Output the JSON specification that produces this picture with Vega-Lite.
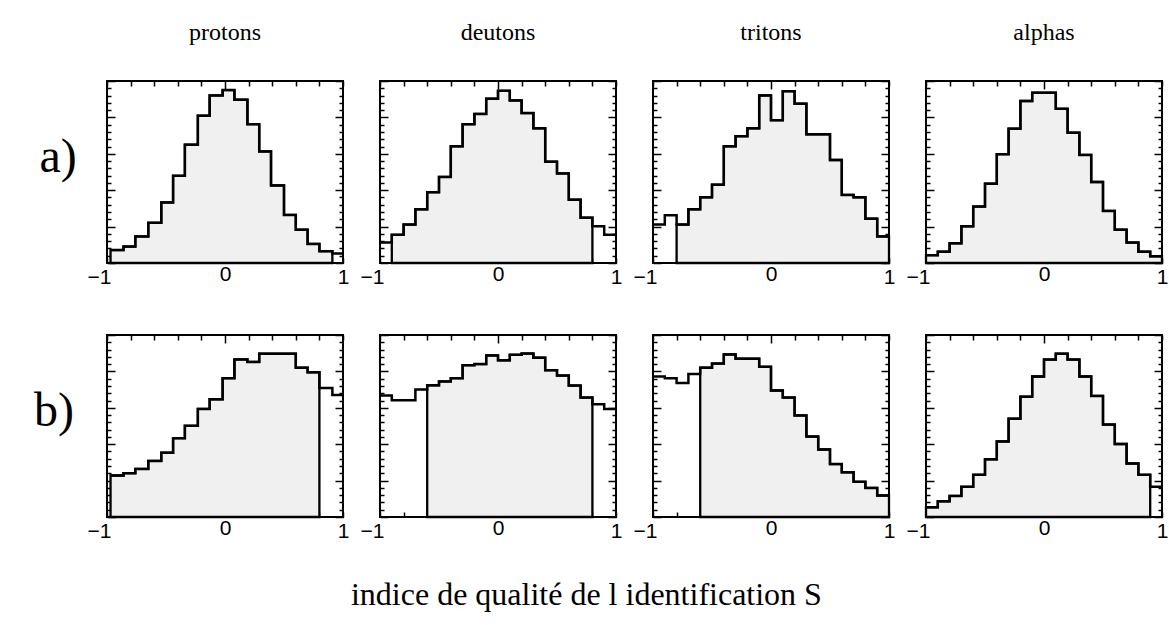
{
  "$schema": "https://vega.github.io/schema/vega-lite/v6.json",
  "background": "white",
  "padding": {"left": 34, "top": 21, "right": 5, "bottom": 5},
  "title": {"text": "indice de qualité de l identification S", "orient": "bottom", "font": "Liberation Serif", "fontSize": 32, "fontWeight": "normal", "color": "black", "offset": 38, "anchor": "middle", "dx": -15},
  "datasets": {
    "hist": [
      {"p":"protons","r":"a)","x":-0.97,"n":7.1},{"p":"protons","r":"a)","x":-0.86,"n":9.0},{"p":"protons","r":"a)","x":-0.76,"n":14.6},{"p":"protons","r":"a)","x":-0.65,"n":22.1},{"p":"protons","r":"a)","x":-0.54,"n":33.3},{"p":"protons","r":"a)","x":-0.44,"n":47.9},{"p":"protons","r":"a)","x":-0.34,"n":65.0},{"p":"protons","r":"a)","x":-0.23,"n":80.9},{"p":"protons","r":"a)","x":-0.13,"n":92.1},{"p":"protons","r":"a)","x":-0.02,"n":95.0},{"p":"protons","r":"a)","x":0.08,"n":89.7},{"p":"protons","r":"a)","x":0.19,"n":76.3},{"p":"protons","r":"a)","x":0.29,"n":61.3},{"p":"protons","r":"a)","x":0.39,"n":42.6},{"p":"protons","r":"a)","x":0.5,"n":26.4},{"p":"protons","r":"a)","x":0.6,"n":18.3},{"p":"protons","r":"a)","x":0.7,"n":10.5},{"p":"protons","r":"a)","x":0.8,"n":6.5},{"p":"protons","r":"a)","x":0.91,"n":5.2},{"p":"protons","r":"a)","x":1,"n":5.2},
      {"p":"deutons","r":"a)","x":-1,"n":11.2},{"p":"deutons","r":"a)","x":-0.9,"n":15.5},{"p":"deutons","r":"a)","x":-0.8,"n":21.1},{"p":"deutons","r":"a)","x":-0.7,"n":29.5},{"p":"deutons","r":"a)","x":-0.6,"n":38.9},{"p":"deutons","r":"a)","x":-0.5,"n":47.3},{"p":"deutons","r":"a)","x":-0.4,"n":64.1},{"p":"deutons","r":"a)","x":-0.3,"n":76.3},{"p":"deutons","r":"a)","x":-0.2,"n":81.9},{"p":"deutons","r":"a)","x":-0.1,"n":90.3},{"p":"deutons","r":"a)","x":0,"n":94.6},{"p":"deutons","r":"a)","x":0.1,"n":89.3},{"p":"deutons","r":"a)","x":0.2,"n":82.4},{"p":"deutons","r":"a)","x":0.3,"n":74.0},{"p":"deutons","r":"a)","x":0.4,"n":55.7},{"p":"deutons","r":"a)","x":0.5,"n":49.2},{"p":"deutons","r":"a)","x":0.6,"n":34.8},{"p":"deutons","r":"a)","x":0.7,"n":24.9},{"p":"deutons","r":"a)","x":0.8,"n":20.2},{"p":"deutons","r":"a)","x":0.9,"n":15.5},{"p":"deutons","r":"a)","x":1,"n":15.5},
      {"p":"tritons","r":"a)","x":-1,"n":21.1},{"p":"tritons","r":"a)","x":-0.9,"n":26.2},{"p":"tritons","r":"a)","x":-0.8,"n":21.1},{"p":"tritons","r":"a)","x":-0.7,"n":29.5},{"p":"tritons","r":"a)","x":-0.6,"n":36.1},{"p":"tritons","r":"a)","x":-0.5,"n":43.0},{"p":"tritons","r":"a)","x":-0.4,"n":64.1},{"p":"tritons","r":"a)","x":-0.3,"n":69.7},{"p":"tritons","r":"a)","x":-0.2,"n":74.0},{"p":"tritons","r":"a)","x":-0.1,"n":92.1},{"p":"tritons","r":"a)","x":0,"n":78.5},{"p":"tritons","r":"a)","x":0.1,"n":94.4},{"p":"tritons","r":"a)","x":0.2,"n":87.5},{"p":"tritons","r":"a)","x":0.3,"n":70.7},{"p":"tritons","r":"a)","x":0.4,"n":70.7},{"p":"tritons","r":"a)","x":0.5,"n":56.6},{"p":"tritons","r":"a)","x":0.6,"n":37.4},{"p":"tritons","r":"a)","x":0.7,"n":36.1},{"p":"tritons","r":"a)","x":0.8,"n":24.3},{"p":"tritons","r":"a)","x":0.9,"n":14.6},{"p":"tritons","r":"a)","x":1,"n":14.6},
      {"p":"alphas","r":"a)","x":-1,"n":4.3},{"p":"alphas","r":"a)","x":-0.9,"n":6.2},{"p":"alphas","r":"a)","x":-0.8,"n":10.8},{"p":"alphas","r":"a)","x":-0.7,"n":20.2},{"p":"alphas","r":"a)","x":-0.6,"n":31.0},{"p":"alphas","r":"a)","x":-0.5,"n":43.6},{"p":"alphas","r":"a)","x":-0.4,"n":59.8},{"p":"alphas","r":"a)","x":-0.3,"n":73.8},{"p":"alphas","r":"a)","x":-0.2,"n":89.0},{"p":"alphas","r":"a)","x":-0.1,"n":93.6},{"p":"alphas","r":"a)","x":0,"n":93.6},{"p":"alphas","r":"a)","x":0.1,"n":84.7},{"p":"alphas","r":"a)","x":0.2,"n":71.6},{"p":"alphas","r":"a)","x":0.3,"n":59.4},{"p":"alphas","r":"a)","x":0.4,"n":44.5},{"p":"alphas","r":"a)","x":0.5,"n":28.6},{"p":"alphas","r":"a)","x":0.6,"n":18.3},{"p":"alphas","r":"a)","x":0.7,"n":11.2},{"p":"alphas","r":"a)","x":0.8,"n":6.2},{"p":"alphas","r":"a)","x":0.9,"n":3.7},{"p":"alphas","r":"a)","x":1,"n":3.7},
      {"p":"protons","r":"b)","x":-0.97,"n":22.8},{"p":"protons","r":"b)","x":-0.86,"n":24.1},{"p":"protons","r":"b)","x":-0.76,"n":26.4},{"p":"protons","r":"b)","x":-0.65,"n":30.8},{"p":"protons","r":"b)","x":-0.54,"n":35.3},{"p":"protons","r":"b)","x":-0.44,"n":43.3},{"p":"protons","r":"b)","x":-0.34,"n":50.1},{"p":"protons","r":"b)","x":-0.23,"n":59.4},{"p":"protons","r":"b)","x":-0.13,"n":64.7},{"p":"protons","r":"b)","x":-0.02,"n":76.3},{"p":"protons","r":"b)","x":0.08,"n":86.6},{"p":"protons","r":"b)","x":0.19,"n":85.2},{"p":"protons","r":"b)","x":0.29,"n":89.7},{"p":"protons","r":"b)","x":0.39,"n":89.7},{"p":"protons","r":"b)","x":0.5,"n":89.7},{"p":"protons","r":"b)","x":0.6,"n":82.0},{"p":"protons","r":"b)","x":0.7,"n":79.5},{"p":"protons","r":"b)","x":0.8,"n":70.9},{"p":"protons","r":"b)","x":0.91,"n":67.0},{"p":"protons","r":"b)","x":1,"n":67.0},
      {"p":"deutons","r":"b)","x":-1,"n":66.8},{"p":"deutons","r":"b)","x":-0.9,"n":64.2},{"p":"deutons","r":"b)","x":-0.8,"n":64.2},{"p":"deutons","r":"b)","x":-0.7,"n":70.1},{"p":"deutons","r":"b)","x":-0.6,"n":72.4},{"p":"deutons","r":"b)","x":-0.5,"n":74.5},{"p":"deutons","r":"b)","x":-0.4,"n":76.3},{"p":"deutons","r":"b)","x":-0.3,"n":83.4},{"p":"deutons","r":"b)","x":-0.2,"n":84.0},{"p":"deutons","r":"b)","x":-0.1,"n":88.8},{"p":"deutons","r":"b)","x":0,"n":86.1},{"p":"deutons","r":"b)","x":0.1,"n":89.1},{"p":"deutons","r":"b)","x":0.2,"n":89.8},{"p":"deutons","r":"b)","x":0.3,"n":87.5},{"p":"deutons","r":"b)","x":0.4,"n":80.7},{"p":"deutons","r":"b)","x":0.5,"n":77.7},{"p":"deutons","r":"b)","x":0.6,"n":72.2},{"p":"deutons","r":"b)","x":0.7,"n":65.6},{"p":"deutons","r":"b)","x":0.8,"n":62.0},{"p":"deutons","r":"b)","x":0.9,"n":59.4},{"p":"deutons","r":"b)","x":1,"n":59.4},
      {"p":"tritons","r":"b)","x":-1,"n":77.2},{"p":"tritons","r":"b)","x":-0.9,"n":76.3},{"p":"tritons","r":"b)","x":-0.8,"n":73.6},{"p":"tritons","r":"b)","x":-0.7,"n":78.6},{"p":"tritons","r":"b)","x":-0.6,"n":82.0},{"p":"tritons","r":"b)","x":-0.5,"n":84.3},{"p":"tritons","r":"b)","x":-0.4,"n":89.3},{"p":"tritons","r":"b)","x":-0.3,"n":87.0},{"p":"tritons","r":"b)","x":-0.2,"n":87.0},{"p":"tritons","r":"b)","x":-0.1,"n":82.5},{"p":"tritons","r":"b)","x":0,"n":69.5},{"p":"tritons","r":"b)","x":0.1,"n":65.6},{"p":"tritons","r":"b)","x":0.2,"n":55.8},{"p":"tritons","r":"b)","x":0.3,"n":44.2},{"p":"tritons","r":"b)","x":0.4,"n":37.1},{"p":"tritons","r":"b)","x":0.5,"n":29.1},{"p":"tritons","r":"b)","x":0.6,"n":24.6},{"p":"tritons","r":"b)","x":0.7,"n":19.3},{"p":"tritons","r":"b)","x":0.8,"n":16.0},{"p":"tritons","r":"b)","x":0.9,"n":11.8},{"p":"tritons","r":"b)","x":1,"n":11.8},
      {"p":"alphas","r":"b)","x":-1,"n":5.3},{"p":"alphas","r":"b)","x":-0.9,"n":8.6},{"p":"alphas","r":"b)","x":-0.8,"n":11.6},{"p":"alphas","r":"b)","x":-0.7,"n":16.6},{"p":"alphas","r":"b)","x":-0.6,"n":23.2},{"p":"alphas","r":"b)","x":-0.5,"n":31.7},{"p":"alphas","r":"b)","x":-0.4,"n":41.5},{"p":"alphas","r":"b)","x":-0.3,"n":54.0},{"p":"alphas","r":"b)","x":-0.2,"n":66.1},{"p":"alphas","r":"b)","x":-0.1,"n":77.2},{"p":"alphas","r":"b)","x":0,"n":86.5},{"p":"alphas","r":"b)","x":0.1,"n":89.7},{"p":"alphas","r":"b)","x":0.2,"n":86.5},{"p":"alphas","r":"b)","x":0.3,"n":77.2},{"p":"alphas","r":"b)","x":0.4,"n":66.5},{"p":"alphas","r":"b)","x":0.5,"n":50.8},{"p":"alphas","r":"b)","x":0.6,"n":40.1},{"p":"alphas","r":"b)","x":0.7,"n":29.4},{"p":"alphas","r":"b)","x":0.8,"n":23.2},{"p":"alphas","r":"b)","x":0.9,"n":16.6},{"p":"alphas","r":"b)","x":1,"n":16.6}
    ],
    "cuts": [
      {"key":"protons|a)","lo":-0.97,"hi":0.91},
      {"key":"deutons|a)","lo":-0.9,"hi":0.8},
      {"key":"tritons|a)","lo":-0.8,"hi":1},
      {"key":"alphas|a)","lo":-1,"hi":1},
      {"key":"protons|b)","lo":-0.97,"hi":0.8},
      {"key":"deutons|b)","lo":-0.6,"hi":0.8},
      {"key":"tritons|b)","lo":-0.6,"hi":1},
      {"key":"alphas|b)","lo":-1,"hi":0.9}
    ]
  },
  "data": {"name": "hist"},
  "transform": [
    {"calculate": "datum.p + '|' + datum.r", "as": "key"},
    {"lookup": "key", "from": {"data": {"name": "cuts"}, "key": "key", "fields": ["lo", "hi"]}}
  ],
  "facet": {
    "row": {"field": "r", "type": "nominal", "title": null,
      "header": {"labelAngle": 0, "labelAlign": "right", "labelBaseline": "alphabetic", "labelFont": "Liberation Serif", "labelFontSize": 48, "labelColor": "black", "labelPadding": -7}},
    "column": {"field": "p", "type": "nominal", "title": null, "sort": ["protons", "deutons", "tritons", "alphas"],
      "header": {"labelFont": "Liberation Serif", "labelFontSize": 24, "labelColor": "black", "labelPadding": 36}}
  },
  "spacing": {"row": 72, "column": 37},
  "bounds": "flush",
  "resolve": {"axis": {"x": "independent", "y": "independent"}},
  "spec": {
    "width": 236,
    "height": 182,
    "layer": [
      {
        "transform": [{"filter": "datum.x >= datum.lo - 0.000001 && datum.x <= datum.hi + 0.000001"}],
        "mark": {"type": "area", "interpolate": "step-after", "fill": "#f0f0f0", "stroke": "black", "strokeWidth": 2.3},
        "encoding": {
          "x": {"field": "x", "type": "quantitative", "scale": {"domain": [-1, 1], "nice": false, "zero": false},
            "axis": {"orient": "bottom", "values": [-1, -0.8, -0.6, -0.4, -0.2, 0, 0.2, 0.4, 0.6, 0.8, 1],
              "labelExpr": "datum.value == 0 ? '0' : datum.value == 1 ? '1' : datum.value == -1 ? '−1' : ''",
              "labelOffset": {"condition": {"test": "datum.value == -1", "value": -8}, "value": 0},
              "tickSize": {"condition": {"test": "datum.value == 0", "value": -8}, "value": -5},
              "labelPadding": 8, "labelFlush": false, "labelOverlap": false, "minExtent": 0}},
          "y": {"field": "n", "type": "quantitative", "scale": {"domain": [0, 100], "nice": false},
            "axis": {"orient": "left", "labels": false, "minExtent": 0, "values": [0,4,8,12,16,20,24,28,32,36,40,44,48,52,56,60,64,68,72,76,80,84,88,92,96,100],
              "tickSize": {"condition": {"test": "datum.value % 20 == 0", "value": -8}, "value": -4}}}
        }
      },
      {
        "mark": {"type": "line", "interpolate": "step-after", "stroke": "black", "strokeWidth": 2.5},
        "encoding": {
          "x": {"field": "x", "type": "quantitative", "scale": {"domain": [-1, 1], "nice": false, "zero": false},
            "axis": {"orient": "top", "labels": false, "minExtent": 0, "values": [-1, -0.8, -0.6, -0.4, -0.2, 0, 0.2, 0.4, 0.6, 0.8, 1],
              "tickSize": {"condition": {"test": "datum.value == 0", "value": -8}, "value": -5}}},
          "y": {"field": "n", "type": "quantitative", "scale": {"domain": [0, 100], "nice": false},
            "axis": {"orient": "right", "labels": false, "minExtent": 0, "values": [0,4,8,12,16,20,24,28,32,36,40,44,48,52,56,60,64,68,72,76,80,84,88,92,96,100],
              "tickSize": {"condition": {"test": "datum.value % 20 == 0", "value": -8}, "value": -4}}}
        }
      }
    ],
    "resolve": {"axis": {"x": "independent", "y": "independent"}}
  },
  "config": {
    "view": {"stroke": "black", "strokeWidth": 2},
    "axis": {"domain": false, "grid": false, "title": null, "labelFont": "Liberation Sans", "labelFontSize": 21, "labelColor": "black", "tickColor": "black", "tickWidth": 1.5}
  }
}
